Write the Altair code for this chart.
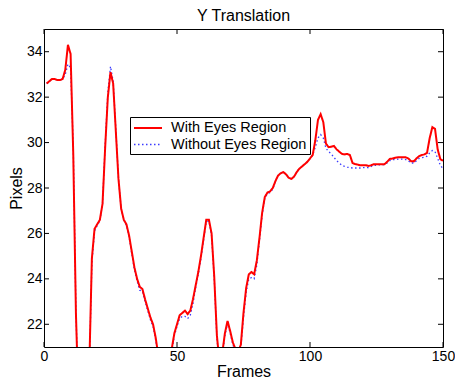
import altair as alt
import pandas as pd

frames = list(range(1, 151))

with_eyes = [
    32.6, 32.7, 32.8, 32.8, 32.75, 32.75, 32.8, 33.2, 34.3, 33.9,
    29.5, 22.5, 18.5, 17.0, 16.5, 17.5, 20.0, 24.9, 26.2, 26.4,
    26.6, 27.3, 29.8, 32.0, 33.1, 32.6, 30.5, 28.4, 27.1, 26.6,
    26.4, 25.9, 25.2, 24.5, 24.0, 23.65, 23.55, 23.1, 22.7, 22.3,
    22.0, 21.4, 20.6, 20.0, 19.6, 19.6, 20.1, 20.9, 21.6, 22.0,
    22.4, 22.5, 22.6, 22.45, 22.6, 23.1, 23.7, 24.3, 25.0, 25.8,
    26.6, 26.6, 26.0, 24.1, 21.5, 20.3, 20.7, 21.6, 22.15, 21.7,
    21.2, 20.9, 20.8, 21.1, 22.5, 23.6, 24.2, 24.3, 24.2, 24.8,
    25.8, 26.9, 27.6, 27.8, 27.85, 28.0, 28.3, 28.55, 28.65, 28.7,
    28.6, 28.45, 28.4, 28.5, 28.7, 28.85, 28.95, 29.05, 29.15, 29.3,
    29.45, 30.1, 31.0, 31.25, 30.9, 29.95, 29.8, 29.82, 29.85, 29.7,
    29.6, 29.5, 29.48, 29.5, 29.45, 29.1, 29.05, 29.03, 29.0, 29.0,
    29.0, 28.97, 29.0, 29.05, 29.05, 29.05, 29.05, 29.05, 29.15, 29.28,
    29.3, 29.33, 29.35, 29.35, 29.35, 29.35, 29.3, 29.18, 29.17, 29.3,
    29.4, 29.45, 29.48, 29.55, 30.2, 30.68, 30.6, 29.7, 29.27, 29.2,
]

without_eyes = [
    32.6, 32.7, 32.8, 32.8, 32.75, 32.75, 32.8, 33.0, 33.45, 33.3,
    29.8, 22.6, 18.4, 16.9, 16.4, 17.4, 19.9, 24.7, 26.1, 26.35,
    26.55, 27.3, 29.9, 32.2, 33.35, 32.7, 30.6, 28.4, 27.1, 26.6,
    26.35, 25.85, 25.1, 24.4, 23.9, 23.5, 23.45, 23.0, 22.6, 22.2,
    21.9, 21.3, 20.5, 19.9, 19.5, 19.5, 20.0, 20.8, 21.5, 21.9,
    22.25, 22.35, 22.35, 22.25, 22.4, 22.9, 23.6, 24.2, 24.9, 25.7,
    26.5, 26.55, 25.9, 24.0, 21.4, 20.2, 20.6, 21.5, 22.05, 21.6,
    21.1, 20.8, 20.7, 21.0, 22.3, 23.4, 24.0, 24.05, 24.0, 24.6,
    25.7, 26.8, 27.55, 27.75, 27.8, 27.95, 28.3, 28.55, 28.65, 28.7,
    28.6, 28.45, 28.4, 28.5, 28.7, 28.85, 28.95, 29.05, 29.15, 29.3,
    29.45, 29.8, 30.2, 30.35, 30.2, 29.75, 29.6, 29.5, 29.35, 29.2,
    29.1, 29.0, 28.95, 28.92, 28.9, 28.88, 28.88, 28.88, 28.88, 28.9,
    28.9, 28.9, 28.95, 29.0, 29.0, 29.02, 29.02, 29.03, 29.1, 29.2,
    29.25, 29.25, 29.27, 29.27, 29.27, 29.25, 29.2, 29.1, 29.1, 29.2,
    29.3, 29.33, 29.35, 29.4, 29.55, 29.65, 29.6, 29.3, 29.0, 28.85,
]

series_names = ["With Eyes Region", "Without Eyes Region"]
series_colors = ["#ff0000", "#3a3aff"]
x_ticks = [0, 50, 100, 150]
y_ticks = [22, 24, 26, 28, 30, 32, 34]

FONT = "Liberation Sans"
W, H = 399, 318

df = pd.DataFrame({
    "Frame": frames * 2,
    "Pixels": with_eyes + without_eyes,
    "Series": [series_names[0]] * len(frames) + [series_names[1]] * len(frames),
})

xscale = alt.Scale(domain=[0, 150], nice=False, zero=False)
yscale = alt.Scale(domain=[21, 35], nice=False, zero=False)

xenc = alt.X("Frame:Q", scale=xscale,
             axis=alt.Axis(values=x_ticks, title="Frames", grid=False, domain=False,
                           ticks=False, labelPadding=2, labelFontSize=14,
                           titleFontSize=16, titleFontWeight="normal", titlePadding=0,
                           labelFont=FONT, titleFont=FONT, labelColor="black",
                           titleColor="black", labelFlush=False))
yenc = alt.Y("Pixels:Q", scale=yscale,
             axis=alt.Axis(values=y_ticks, title="Pixels", grid=False, domain=False,
                           ticks=False, labelPadding=2, labelFontSize=14,
                           titleFontSize=16, titleFontWeight="normal", titlePadding=2,
                           labelFont=FONT, titleFont=FONT, labelColor="black",
                           titleColor="black", labelFlush=False))


def leg():
    return alt.Legend(title=None, orient="none", legendX=86, legendY=88,
                      strokeColor="black", fillColor="white", padding=3,
                      symbolType="M-1,0L3,0", symbolSize=196, labelFontSize=14.5,
                      labelFont=FONT, rowPadding=1.5, labelOffset=22,
                      labelColor="black", cornerRadius=0)


color = alt.Color("Series:N", scale=alt.Scale(domain=series_names, range=series_colors),
                  legend=leg())
dash = alt.StrokeDash("Series:N",
                      scale=alt.Scale(domain=series_names, range=[[1, 0], [1.5, 2.5]]),
                      legend=leg())
swidth = alt.StrokeWidth("Series:N",
                         scale=alt.Scale(domain=series_names, range=[2, 1.3]),
                         legend=leg())

base = alt.Chart(df).mark_line(clip=True).encode(
    x=xenc, y=yenc, color=color, strokeDash=dash, strokeWidth=swidth
)
blue = base.transform_filter(alt.datum.Series == series_names[1])
red = base.transform_filter(alt.datum.Series == series_names[0])

xt = pd.DataFrame({"Frame": x_ticks})
yt = pd.DataFrame({"Pixels": y_ticks})

xt_bottom = alt.Chart(xt).mark_rule(color="black", strokeWidth=1).encode(
    x=alt.X("Frame:Q", scale=xscale), y=alt.value(H), y2=alt.value(H - 5))
xt_top = alt.Chart(xt).mark_rule(color="black", strokeWidth=1).encode(
    x=alt.X("Frame:Q", scale=xscale), y=alt.value(0), y2=alt.value(5))
yt_left = alt.Chart(yt).mark_rule(color="black", strokeWidth=1).encode(
    y=alt.Y("Pixels:Q", scale=yscale), x=alt.value(0), x2=alt.value(5))
yt_right = alt.Chart(yt).mark_rule(color="black", strokeWidth=1).encode(
    y=alt.Y("Pixels:Q", scale=yscale), x=alt.value(W), x2=alt.value(W - 5))

chart = alt.layer(blue, red, xt_bottom, xt_top, yt_left, yt_right).properties(
    width=W, height=H,
    title=alt.TitleParams("Y Translation", fontSize=16, fontWeight="normal",
                          font=FONT, color="black", offset=5),
    autosize=alt.AutoSizeParams(type="none"),
    padding={"left": 36, "top": 21, "right": 12, "bottom": 33},
    background="white",
).configure_view(stroke="black", strokeWidth=1)

chart.save("out.html", embed_options={"renderer": "svg", "actions": False})
